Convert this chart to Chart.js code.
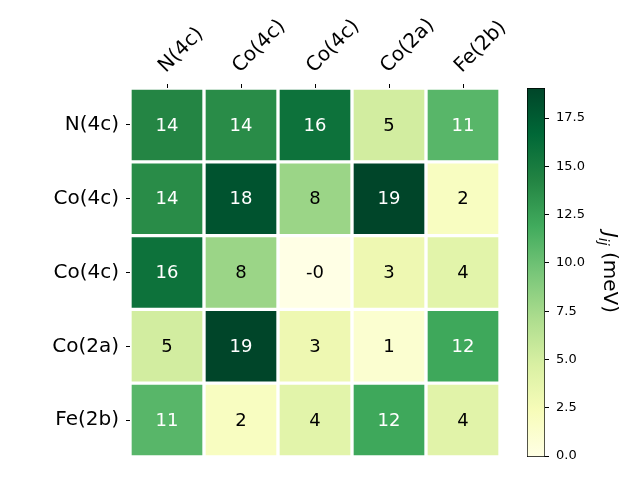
<!DOCTYPE html>
<html>
<head>
<meta charset="utf-8">
<script src="https://cdn.jsdelivr.net/npm/chart.js@4.4.0/dist/chart.umd.min.js"></script>
<style>
html, body { margin: 0; padding: 0; background: #fff; }
#wrap { position: relative; width: 640px; height: 480px; }
#heat { position: absolute; left: 0; top: 0; }
#cbar { position: absolute; left: 500px; top: 0; }
</style>
</head>
<body>
<div id="wrap">
  <canvas id="heat" width="640" height="480" style="width:640px;height:480px"></canvas>
  <canvas id="cbar" width="140" height="480" style="width:140px;height:480px"></canvas>
</div>
<script>
// labels of the sites
const colLabels = ['N(4c)', 'Co(4c)', 'Co(4c)', 'Co(2a)', 'Fe(2b)'];
const rowLabels = ['N(4c)', 'Co(4c)', 'Co(4c)', 'Co(2a)', 'Fe(2b)'];

// exchange J_ij in meV, one array per row
const jN4c   = [14.2, 13.8, 15.8, 5.1, 10.9];
const jCo4cA = [13.8, 18.1, 7.95, 19.06, 1.9];
const jCo4cB = [15.8, 7.95, -0.05, 3.05, 4.0];
const jCo2a  = [5.1, 19.06, 3.05, 1.1, 12.1];
const jFe2b  = [10.9, 1.9, 4.0, 12.1, 4.1];
const jRows = [jN4c, jCo4cA, jCo4cB, jCo2a, jFe2b];

const vMin = -0.05;
const vMax = 19.06;
const cbTicks = [0, 2.5, 5, 7.5, 10, 12.5, 15, 17.5];

// YlGn colormap stops
const ylgn = ['#ffffe5', '#f7fcb9', '#d9f0a3', '#addd8e', '#78c679', '#41ab5d', '#238443', '#006837', '#004529'];

Chart.defaults.font.family = '"DejaVu Sans", sans-serif';
Chart.defaults.color = '#000';

function hexRgb(h) {
    return [parseInt(h.slice(1, 3), 16), parseInt(h.slice(3, 5), 16), parseInt(h.slice(5, 7), 16)];
}

function cmap(v) {
    let t = (v - vMin) / (vMax - vMin);
    t = Math.max(0, Math.min(1, t));
    const p = t * (ylgn.length - 1);
    const i = Math.min(Math.floor(p), ylgn.length - 2);
    const f = p - i;
    const a = hexRgb(ylgn[i]), b = hexRgb(ylgn[i + 1]);
    const c = a.map((x, k) => Math.round(x + (b[k] - x) * f));
    return 'rgb(' + c.join(',') + ')';
}

// numbers inside the cells
const cellText = {
    id: 'cellText',
    afterDatasetsDraw(chart) {
        const ctx = chart.ctx;
        ctx.save();
        ctx.font = '18px "DejaVu Sans"';
        ctx.textAlign = 'center';
        ctx.textBaseline = 'middle';
        chart.data.datasets.forEach((ds, r) => {
            chart.getDatasetMeta(r).data.forEach((el, c) => {
                const v = jRows[r][c];
                const n = (v - vMin) / (vMax - vMin);
                let s = Math.round(v);
                s = (v < 0 && s === 0) ? '-0' : String(s);
                ctx.fillStyle = n > 0.5 ? '#fff' : '#000';
                ctx.fillText(s, el.x, (el.y + el.base) / 2 + 1);
            });
        });
        ctx.restore();
    }
};

new Chart(document.getElementById('heat'), {
    type: 'bar',
    data: {
        labels: colLabels,
        datasets: jRows.map((row, r) => ({
            label: rowLabels[r],
            data: row.map(() => [r, r + 1]),
            backgroundColor: row.map(cmap),
            borderColor: '#fff',
            borderWidth: 2,
            borderSkipped: false,
            barPercentage: 1,
            categoryPercentage: 1,
            grouped: false
        }))
    },
    options: {
        responsive: false,
        animation: false,
        layout: { padding: { left: 0, right: 140, top: 0, bottom: 23 } },
        plugins: {
            legend: { display: false },
            tooltip: { enabled: false }
        },
        scales: {
            x: {
                position: 'top',
                offset: true,
                grid: { offset: false, drawOnChartArea: false, tickLength: 4, color: '#000' },
                border: { display: false },
                ticks: { minRotation: 45, maxRotation: 45, font: { size: 20 }, padding: 6, labelOffset: 12 },
                afterFit(s) { s.height = 88; }
            },
            y: {
                type: 'linear',
                min: 0,
                max: 5,
                reverse: true,
                afterBuildTicks(s) { s.ticks = rowLabels.map((l, i) => ({ value: i + 0.5 })); },
                ticks: {
                    autoSkip: false,
                    font: { size: 20 },
                    padding: 7,
                    callback: (v, i) => rowLabels[i]
                },
                grid: { drawOnChartArea: false, tickLength: 4, color: '#000' },
                border: { display: false },
                afterFit(s) { s.width = 130; }
            }
        }
    },
    plugins: [cellText]
});

// colorbar title J_ij (meV)
const cbLabel = {
    id: 'cbLabel',
    afterDraw(chart) {
        const ctx = chart.ctx;
        const area = chart.chartArea;
        const cy = (area.top + area.bottom) / 2;
        ctx.save();
        ctx.translate(104, cy);
        ctx.rotate(Math.PI / 2);
        ctx.fillStyle = '#000';
        ctx.textBaseline = 'alphabetic';
        ctx.textAlign = 'left';
        const fJ = 'italic 20px "DejaVu Sans"';
        const fSub = 'italic 14px "DejaVu Sans"';
        const fMain = '20px "DejaVu Sans"';
        ctx.font = fJ; const wJ = ctx.measureText('J').width;
        ctx.font = fSub; const wS = ctx.measureText('ij').width;
        ctx.font = fMain; const wM = ctx.measureText(' (meV)').width;
        let x = -(wJ + wS + wM) / 2;
        ctx.font = fJ; ctx.fillText('J', x, 0); x += wJ;
        ctx.font = fSub; ctx.fillText('ij', x, 5); x += wS;
        ctx.font = fMain; ctx.fillText(' (meV)', x, 0);
        ctx.restore();
    }
};

new Chart(document.getElementById('cbar'), {
    type: 'bar',
    data: {
        labels: [''],
        datasets: [{
            data: [[vMin, vMax]],
            backgroundColor(context) {
                const chart = context.chart;
                if (!chart.chartArea) return '#fff';
                const ys = chart.scales.y;
                const g = chart.ctx.createLinearGradient(0, ys.getPixelForValue(vMin), 0, ys.getPixelForValue(vMax));
                ylgn.forEach((c, i) => g.addColorStop(i / (ylgn.length - 1), c));
                return g;
            },
            borderColor: '#000',
            borderWidth: 1,
            borderSkipped: false,
            barPercentage: 1,
            categoryPercentage: 1
        }]
    },
    options: {
        responsive: false,
        animation: false,
        layout: { padding: { left: 27, right: 0, top: 88, bottom: 23 } },
        plugins: {
            legend: { display: false },
            tooltip: { enabled: false }
        },
        scales: {
            x: { display: false },
            y: {
                position: 'right',
                min: vMin,
                max: vMax,
                afterBuildTicks(s) { s.ticks = cbTicks.map(v => ({ value: v })); },
                ticks: { font: { size: 13 }, padding: 7, callback: v => v.toFixed(1) },
                grid: { drawOnChartArea: false, tickLength: 4, color: '#000' },
                border: { display: false },
                afterFit(s) { s.width = 95; }
            }
        }
    },
    plugins: [cbLabel]
});
</script>
</body>
</html>
